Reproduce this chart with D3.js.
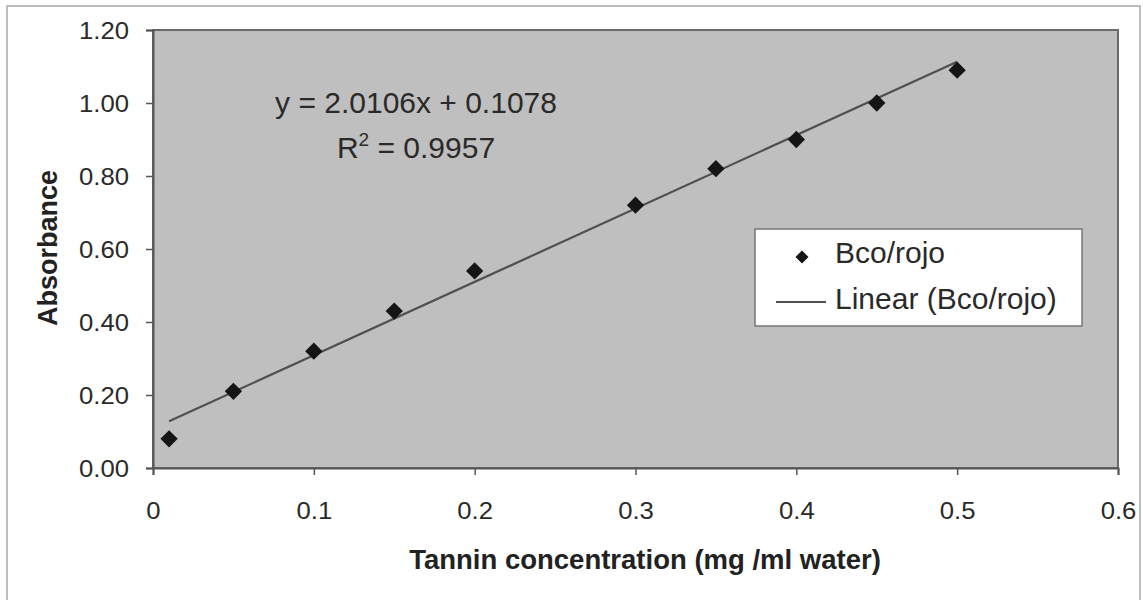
<!DOCTYPE html>
<html>
<head>
<meta charset="utf-8">
<title>Absorbance vs tannin concentration</title>
<style>
  body { margin: 0; background: #fff; }
  svg { display: block; font-family: "Liberation Sans", Arial, sans-serif; }
</style>
<script src="https://cdnjs.cloudflare.com/ajax/libs/d3/7.8.5/d3.min.js"></script>
</head>
<body>
<script>
// data
var concentration = [0.01, 0.05, 0.1, 0.15, 0.2, 0.3, 0.35, 0.4, 0.45, 0.5];
var absorbance = [0.08, 0.21, 0.32, 0.43, 0.54, 0.72, 0.82, 0.90, 1.00, 1.09];
var xTicks = [0, 0.1, 0.2, 0.3, 0.4, 0.5, 0.6];
var yTicks = [0, 0.2, 0.4, 0.6, 0.8, 1.0, 1.2];
var slope = 2.0106, intercept = 0.1078, rSquared = 0.9957;
var seriesName = 'Bco/rojo';

var W = 1143, H = 600;
var plot = { left: 153, top: 30, right: 1118, bottom: 468 };

var svg = d3.select('body').append('svg').attr('width', W).attr('height', H);

// outer chart border
svg.append('rect')
  .attr('x', 7).attr('y', 6).attr('width', 1133).attr('height', 610)
  .attr('fill', '#fff').attr('stroke', '#a8a8a8').attr('stroke-width', 1.5);

var x = d3.scaleLinear().domain([0, 0.6]).range([plot.left, plot.right]);
var y = d3.scaleLinear().domain([0, 1.2]).range([plot.bottom, plot.top]);

// plot area
svg.append('rect')
  .attr('x', plot.left).attr('y', plot.top)
  .attr('width', plot.right - plot.left).attr('height', plot.bottom - plot.top)
  .attr('fill', '#bfbfbf').attr('stroke', '#6a6a6a').attr('stroke-width', 2);

// axes
var yAxis = svg.append('g')
  .attr('transform', 'translate(' + plot.left + ',0)')
  .call(d3.axisLeft(y).tickValues(yTicks).tickFormat(d3.format('.2f')).tickSizeOuter(0).tickSize(7));
var xAxis = svg.append('g')
  .attr('transform', 'translate(0,' + plot.bottom + ')')
  .call(d3.axisBottom(x).tickValues(xTicks).tickFormat(d => d === 0 ? '0' : d.toFixed(1)).tickSizeOuter(0).tickSize(7));

[xAxis, yAxis].forEach(function (ax) {
  ax.select('.domain').attr('stroke', '#555').attr('stroke-width', 2);
  ax.selectAll('.tick line').attr('stroke', '#555').attr('stroke-width', 1.5);
  ax.selectAll('.tick text').attr('fill', '#2a2a2a').attr('font-size', 24);
});
yAxis.selectAll('.tick text')
  .attr('x', -24 / 1.07).attr('dy', '0.36em')
  .attr('transform', 'scale(1.07,1)');
xAxis.selectAll('.tick text')
  .attr('y', 51).attr('dy', 0)
  .attr('transform', 'scale(1.07,1)');

// axis titles
svg.append('text')
  .attr('transform', 'translate(57,248) rotate(-90)')
  .attr('text-anchor', 'middle')
  .attr('font-size', 27).attr('font-weight', 'bold').attr('fill', '#222')
  .text('Absorbance');
svg.append('text')
  .attr('x', 645).attr('y', 569)
  .attr('text-anchor', 'middle')
  .attr('font-size', 27.5).attr('font-weight', 'bold').attr('fill', '#222')
  .text('Tannin concentration (mg /ml water)');

// linear trend line
var xExt = d3.extent(concentration);
svg.append('path')
  .datum(xExt.map(v => [v, slope * v + intercept]))
  .attr('d', d3.line().x(d => x(d[0])).y(d => y(d[1])))
  .attr('stroke', '#505050').attr('stroke-width', 2.2).attr('fill', 'none');

// markers
var diamond = d3.symbol().type(d3.symbolSquare).size(150);
svg.selectAll('.pt')
  .data(concentration.map((c, i) => [c, absorbance[i]]))
  .enter().append('path')
  .attr('class', 'pt')
  .attr('d', diamond)
  .attr('transform', d => 'translate(' + x(d[0]) + ',' + y(d[1]) + ') rotate(45)')
  .attr('fill', '#151515');

// equation label
var eq = svg.append('text')
  .attr('text-anchor', 'middle').attr('font-size', 30).attr('fill', '#2a2a2a');
eq.append('tspan').attr('x', 416).attr('y', 113)
  .text('y = ' + slope.toFixed(4) + 'x + ' + intercept.toFixed(4));
var r2 = eq.append('tspan').attr('x', 416).attr('y', 158);
r2.append('tspan').text('R');
r2.append('tspan').attr('font-size', 19).attr('dy', -12).text('2');
r2.append('tspan').attr('dy', 12).text(' = ' + rSquared.toFixed(4));

// legend
var lg = svg.append('g').attr('transform', 'translate(755,229)');
lg.append('rect')
  .attr('width', 327).attr('height', 97)
  .attr('fill', '#fff').attr('stroke', '#777').attr('stroke-width', 1.5);
lg.append('path')
  .attr('d', d3.symbol().type(d3.symbolSquare).size(85))
  .attr('transform', 'translate(47,28) rotate(45)')
  .attr('fill', '#151515');
lg.append('text').attr('x', 80).attr('y', 34)
  .attr('font-size', 30).attr('fill', '#2a2a2a').text(seriesName);
lg.append('line')
  .attr('x1', 21).attr('x2', 71).attr('y1', 73).attr('y2', 73)
  .attr('stroke', '#505050').attr('stroke-width', 2);
lg.append('text').attr('x', 80).attr('y', 80)
  .attr('font-size', 30).attr('fill', '#2a2a2a').text('Linear (' + seriesName + ')');
</script>
</body>
</html>
